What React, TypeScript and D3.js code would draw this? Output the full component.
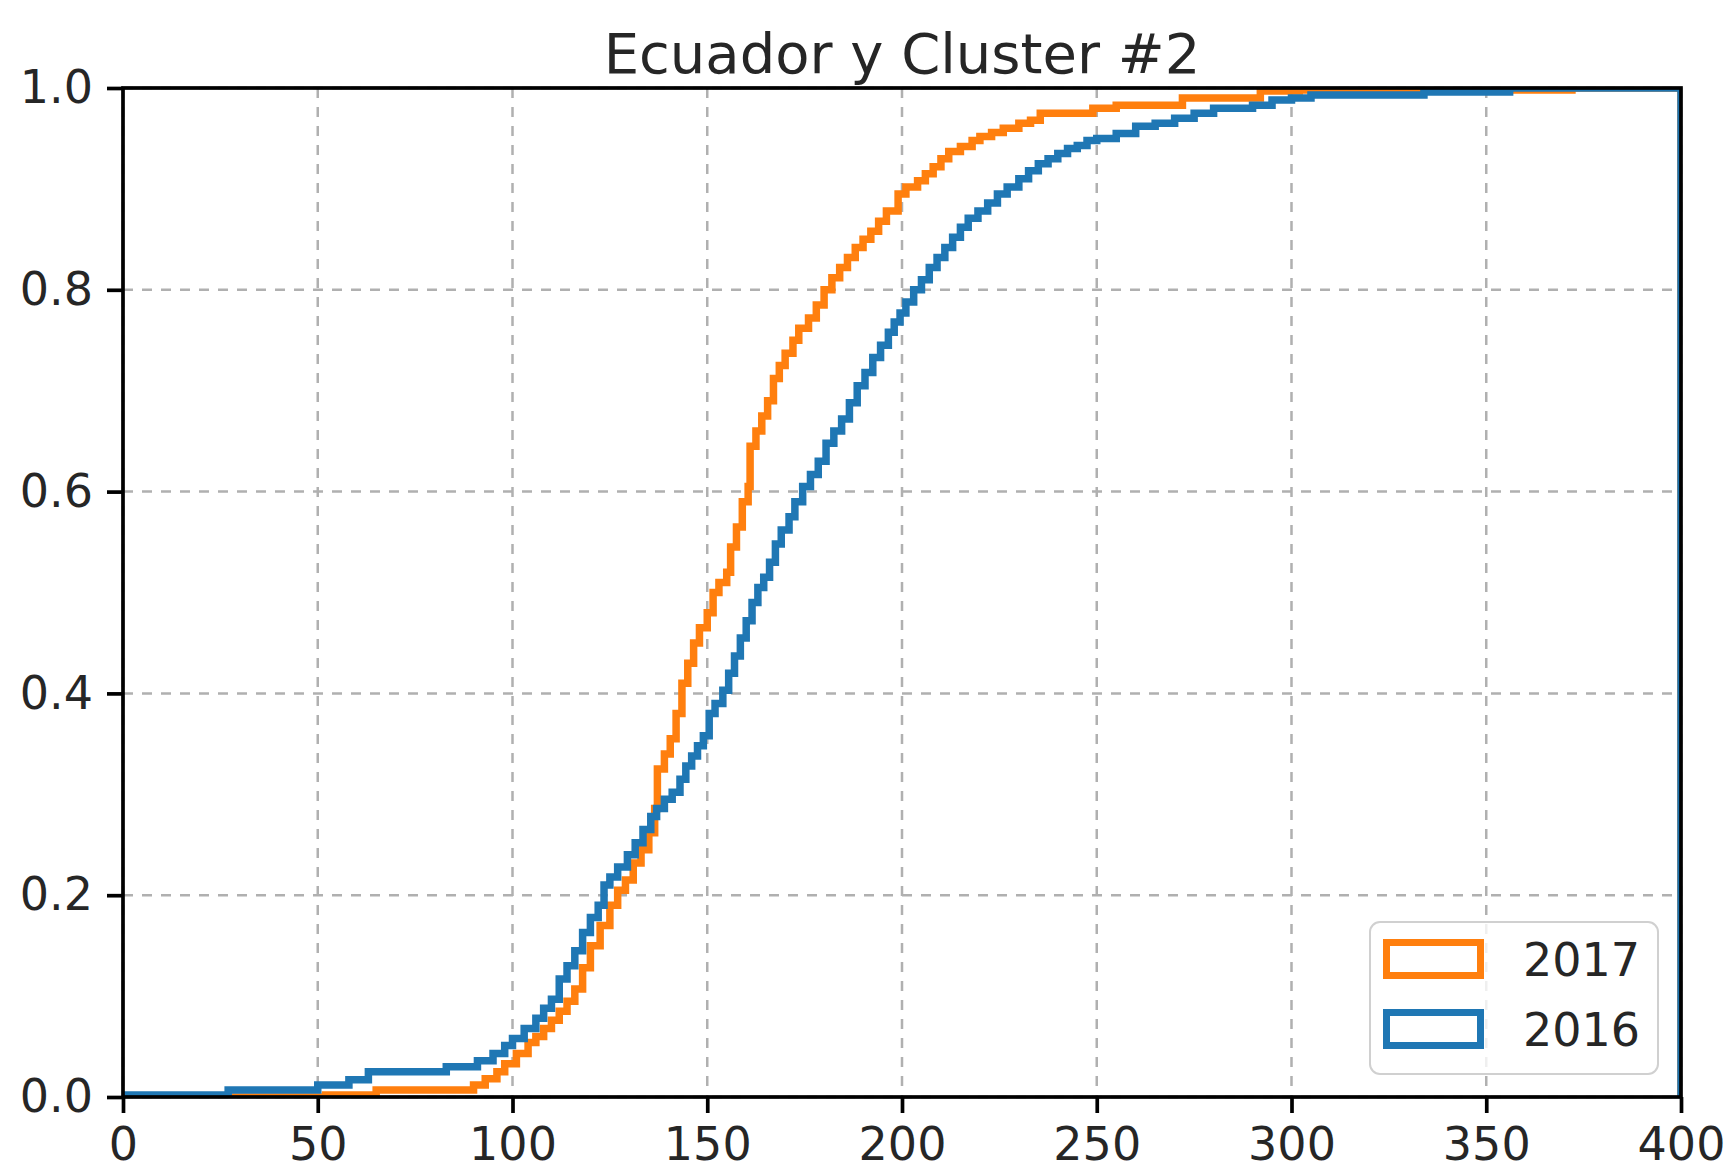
import { useEffect, useRef } from "react"
import * as d3 from "d3"

// cumulative step points: [x, share from x on]
const steps2017: [number, number][] = [
  [0, 0], [52, 0.002], [65, 0.007], [90, 0.012], [93, 0.018], [96, 0.025], [98, 0.033],
  [101, 0.043], [104, 0.054], [106, 0.06], [108, 0.068], [110, 0.076], [112, 0.085],
  [114, 0.095], [116, 0.107], [118, 0.128], [120, 0.15], [122.5, 0.17], [125, 0.19],
  [127, 0.205], [129, 0.215], [131, 0.232], [133, 0.245], [135, 0.262], [136.5, 0.286],
  [137.2, 0.325], [139, 0.34], [140.5, 0.355], [142, 0.38], [143.5, 0.41], [145, 0.43],
  [146.5, 0.45], [148, 0.465], [150, 0.48], [151.5, 0.5], [153, 0.51], [155, 0.52],
  [156, 0.545], [157.5, 0.565], [159, 0.59], [160.5, 0.605], [161, 0.645], [162.5, 0.66],
  [164, 0.675], [165.5, 0.69], [167, 0.712], [168.5, 0.725], [170, 0.737], [172, 0.75],
  [173.5, 0.762], [176, 0.772], [178, 0.785], [180, 0.8], [182, 0.812], [184, 0.822],
  [186, 0.832], [188, 0.842], [190, 0.85], [192, 0.858], [194, 0.868], [196, 0.878],
  [199, 0.895], [201, 0.902], [204, 0.908], [206, 0.915], [208, 0.922], [210, 0.93],
  [212, 0.937], [215, 0.942], [218, 0.948], [220, 0.952], [223, 0.956], [226, 0.96],
  [230, 0.965], [233, 0.968], [235.5, 0.975], [249, 0.98], [255, 0.983], [272, 0.99],
  [292, 0.997], [302, 0.998], [372, 1.0], [400, 0],
]

const steps2016: [number, number][] = [
  [0, 0.002], [27, 0.007], [50, 0.012], [58, 0.017], [63, 0.025], [83, 0.03], [91, 0.036],
  [95, 0.043], [98, 0.051], [100, 0.058], [103, 0.068], [106, 0.078], [108, 0.088],
  [110, 0.097], [112, 0.117], [114, 0.13], [116, 0.145], [118, 0.163], [120, 0.178],
  [122, 0.19], [123.5, 0.21], [125, 0.218], [127, 0.228], [129.5, 0.24], [131.5, 0.252],
  [133.5, 0.265], [135.5, 0.278], [137, 0.286], [139, 0.295], [141, 0.302], [143, 0.315],
  [144.5, 0.328], [146, 0.338], [147.5, 0.348], [149, 0.358], [150.5, 0.38], [152, 0.39],
  [154, 0.403], [155.5, 0.42], [157, 0.437], [158.5, 0.455], [160, 0.472], [161.5, 0.49],
  [163, 0.505], [164.5, 0.515], [166, 0.53], [167.5, 0.548], [169, 0.562], [171, 0.575],
  [172.5, 0.59], [174.5, 0.605], [176.5, 0.617], [178.5, 0.63], [180.5, 0.648],
  [182.5, 0.66], [184.5, 0.672], [186.5, 0.688], [188.5, 0.705], [190.5, 0.718],
  [192.5, 0.733], [194.5, 0.745], [196.5, 0.758], [198, 0.768], [199.5, 0.777],
  [201, 0.788], [203, 0.8], [205, 0.81], [207, 0.822], [209, 0.832], [211, 0.842],
  [213, 0.852], [215, 0.862], [217, 0.871], [219.5, 0.878], [222, 0.886], [224.5, 0.895],
  [227, 0.902], [230, 0.91], [232.5, 0.918], [235, 0.925], [237.5, 0.93], [240, 0.935],
  [242.5, 0.94], [245, 0.943], [247.5, 0.948], [250, 0.95], [255, 0.955], [260, 0.962],
  [265, 0.965], [270, 0.97], [275, 0.975], [280, 0.98], [290, 0.983], [295, 0.988],
  [300, 0.99], [305, 0.993], [334, 0.996], [356, 1.0], [400, 0],
]

const xTicks = [0, 50, 100, 150, 200, 250, 300, 350, 400]
const yTicks = [0, 0.2, 0.4, 0.6, 0.8, 1.0]
const seriesNames = ["2017", "2016"]
const colors = ["#ff7f0e", "#1f77b4"]

export default function App() {
  const svgRef = useRef(null)

  useEffect(() => {
    if (!svgRef.current) return
    const svg = d3.select(svgRef.current)
    svg.selectAll("*").remove()

    const width = 1726
    const height = 1170
    const margin = { top: 88, right: 45, bottom: 73, left: 123 }
    const innerWidth = width - margin.left - margin.right
    const innerHeight = height - margin.top - margin.bottom
    const font = "DejaVu Sans, sans-serif"

    const x = d3.scaleLinear().domain([0, 400]).range([0, innerWidth])
    const y = d3.scaleLinear().domain([0, 1]).range([innerHeight, 0])

    svg.attr("width", width).attr("height", height).attr("viewBox", [0, 0, width, height])

    const g = svg.append("g").attr("transform", `translate(${margin.left},${margin.top})`)

    g.append("defs")
      .append("clipPath")
      .attr("id", "plot-clip")
      .append("rect")
      .attr("width", innerWidth)
      .attr("height", innerHeight)

    // grid
    g.append("g")
      .selectAll("line")
      .data(xTicks)
      .join("line")
      .attr("x1", (d) => x(d))
      .attr("x2", (d) => x(d))
      .attr("y1", 0)
      .attr("y2", innerHeight)
      .attr("stroke", "#b0b0b0")
      .attr("stroke-width", 2.5)
      .attr("stroke-dasharray", "10,9")

    g.append("g")
      .selectAll("line")
      .data(yTicks)
      .join("line")
      .attr("x1", 0)
      .attr("x2", innerWidth)
      .attr("y1", (d) => y(d))
      .attr("y2", (d) => y(d))
      .attr("stroke", "#b0b0b0")
      .attr("stroke-width", 2.5)
      .attr("stroke-dasharray", "10,9")

    // step curves
    const line = d3
      .line<[number, number]>()
      .x((d) => x(d[0]))
      .y((d) => y(d[1]))
      .curve(d3.curveStepAfter)

    const plot = g.append("g").attr("clip-path", "url(#plot-clip)")
    ;[steps2017, steps2016].forEach((s, i) => {
      plot
        .append("path")
        .datum(s)
        .attr("d", line)
        .attr("fill", "none")
        .attr("stroke", colors[i])
        .attr("stroke-width", 7.5)
    })

    // frame
    g.append("rect")
      .attr("width", innerWidth)
      .attr("height", innerHeight)
      .attr("fill", "none")
      .attr("stroke", "#000")
      .attr("stroke-width", 3.7)

    // axes
    const xAxis = g
      .append("g")
      .attr("transform", `translate(0,${innerHeight})`)
      .call(d3.axisBottom(x).tickValues(xTicks).tickSize(16).tickPadding(14).tickFormat(d3.format("d")))
    const yAxis = g
      .append("g")
      .call(d3.axisLeft(y).tickValues(yTicks).tickSize(16).tickPadding(14).tickFormat(d3.format(".1f")))

    ;[xAxis, yAxis].forEach((a) => {
      a.select(".domain").remove()
      a.selectAll(".tick line").attr("stroke", "#000").attr("stroke-width", 3.7)
      a.selectAll(".tick text").attr("fill", "#262626").attr("font-family", font).attr("font-size", 46)
    })

    // title
    svg
      .append("text")
      .attr("x", margin.left + innerWidth / 2)
      .attr("y", 73)
      .attr("text-anchor", "middle")
      .attr("font-family", font)
      .attr("font-size", 56)
      .attr("fill", "#262626")
      .text("Ecuador y Cluster #2")

    // legend
    const legend = svg.append("g").attr("transform", "translate(1370,922)")
    legend
      .append("rect")
      .attr("width", 288)
      .attr("height", 152)
      .attr("rx", 10)
      .attr("fill", "#fff")
      .attr("fill-opacity", 0.8)
      .attr("stroke", "#d0d0d0")
      .attr("stroke-width", 2)

    seriesNames.forEach((name, i) => {
      const lg = legend.append("g").attr("transform", `translate(0,${i * 70})`)
      lg.append("rect")
        .attr("x", 16.5)
        .attr("y", 20.5)
        .attr("width", 94)
        .attr("height", 33)
        .attr("fill", "none")
        .attr("stroke", colors[i])
        .attr("stroke-width", 7)
      lg.append("text")
        .attr("x", 153)
        .attr("y", 54)
        .attr("font-family", font)
        .attr("font-size", 46)
        .attr("fill", "#262626")
        .text(name)
    })
  }, [])

  return (
    <div style={{ position: "absolute", left: 0, top: 0 }}>
      <svg ref={svgRef} style={{ display: "block" }}></svg>
    </div>
  )
}
